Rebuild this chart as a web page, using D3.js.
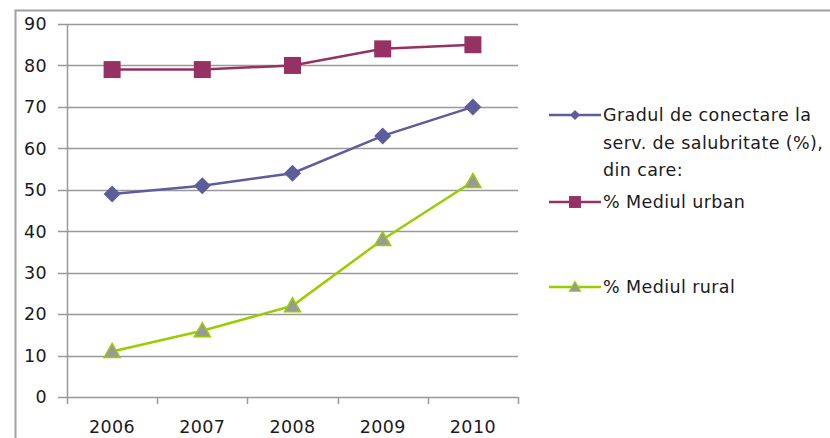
<!DOCTYPE html>
<html>
<head>
<meta charset="utf-8">
<script src="https://cdn.jsdelivr.net/npm/d3@7"></script>
<style>
  body { margin: 0; background: #fff; }
  text { font-family: "DejaVu Sans", sans-serif; fill: #1a1a22; letter-spacing: 0.4px; }
</style>
</head>
<body>
<svg id="chart" width="830" height="438"></svg>
<script>
const years = ['2006', '2007', '2008', '2009', '2010'];
const total = [49, 51, 54, 63, 70];
const urban = [79, 79, 80, 84, 85];
const rural = [11, 16, 22, 38, 52];
const yTicks = [0, 10, 20, 30, 40, 50, 60, 70, 80, 90];

const series = [
  {name: ['Gradul de conectare la', 'serv. de salubritate (%),', 'din care:'], values: total, color: '#5d5d9c', marker: 'diamond', legendY: 115},
  {name: ['% Mediul urban'], values: urban, color: '#953163', marker: 'square', legendY: 202},
  {name: ['% Mediul rural'], values: rural, color: '#9acd00', marker: 'triangle', legendY: 287}
];

const svg = d3.select('#chart');
const plotLeft = 67, plotRight = 518, plotTop = 24, plotBottom = 397;

// outer frame
svg.append('path')
  .attr('d', 'M15.5,438 V10.5 H830')
  .attr('fill', 'none')
  .attr('stroke', '#a0a0a0')
  .attr('stroke-width', 2);

const x = d3.scaleBand().domain(years).range([plotLeft, plotRight]);
const y = d3.scaleLinear().domain([0, 90]).range([plotBottom, plotTop]);

// gridlines
svg.append('g')
  .selectAll('line')
  .data(yTicks)
  .enter()
  .append('line')
  .attr('x1', plotLeft - 9)
  .attr('x2', plotRight)
  .attr('y1', d => Math.round(y(d)) + 0.5)
  .attr('y2', d => Math.round(y(d)) + 0.5)
  .attr('stroke', '#999')
  .attr('stroke-width', 1.5);

// y axis line
svg.append('line')
  .attr('x1', plotLeft + 0.5).attr('x2', plotLeft + 0.5)
  .attr('y1', y(90)).attr('y2', plotBottom)
  .attr('stroke', '#999').attr('stroke-width', 1.5);

// x tick marks at category boundaries
svg.append('g')
  .selectAll('line')
  .data(years.concat(['end']))
  .enter()
  .append('line')
  .attr('x1', (d, i) => Math.round(plotLeft + i * x.step()) + 0.5)
  .attr('x2', (d, i) => Math.round(plotLeft + i * x.step()) + 0.5)
  .attr('y1', plotBottom)
  .attr('y2', plotBottom + 7)
  .attr('stroke', '#999').attr('stroke-width', 1.5);

// y tick labels
svg.append('g')
  .selectAll('text')
  .data(yTicks)
  .enter()
  .append('text')
  .attr('x', 47)
  .attr('y', d => y(d))
  .attr('dy', '0.36em')
  .attr('text-anchor', 'end')
  .style('font-size', '17.5px')
  .text(d => d);

// x labels
svg.append('g')
  .selectAll('text')
  .data(years)
  .enter()
  .append('text')
  .attr('x', d => x(d) + x.bandwidth() / 2)
  .attr('y', 427)
  .attr('dy', '0.36em')
  .attr('text-anchor', 'middle')
  .style('font-size', '17.5px')
  .text(d => d);

const line = d3.line()
  .x((d, i) => x(years[i]) + x.bandwidth() / 2)
  .y(d => y(d));

const drawMarker = (g, type, color) => {
  if (type === 'diamond') {
    g.append('path').attr('d', 'M0,-8.5 L8.5,0 L0,8.5 L-8.5,0 Z').attr('fill', color);
  } else if (type === 'square') {
    g.append('rect').attr('x', -8.5).attr('y', -8.5).attr('width', 17).attr('height', 17).attr('fill', color);
  } else {
    g.append('path').attr('d', 'M0,-8 L8,6 L-8,6 Z')
      .attr('fill', '#999').attr('stroke', color).attr('stroke-width', 1.5);
  }
};

series.forEach(s => {
  svg.append('path')
    .datum(s.values)
    .attr('d', line)
    .attr('fill', 'none')
    .attr('stroke', s.color)
    .attr('stroke-width', 2.5);

  s.values.forEach((v, i) => {
    const g = svg.append('g')
      .attr('transform', `translate(${x(years[i]) + x.bandwidth() / 2},${y(v)})`);
    drawMarker(g, s.marker, s.color);
  });

  // legend
  svg.append('line')
    .attr('x1', 549).attr('x2', 601)
    .attr('y1', s.legendY).attr('y2', s.legendY)
    .attr('stroke', s.color).attr('stroke-width', 2.5);
  const lg = svg.append('g').attr('transform', `translate(575,${s.legendY})`);
  drawMarker(lg, s.marker, s.color);
  lg.select('*').attr('transform', s.marker === 'diamond' ? 'scale(0.6)' : 'scale(0.7)');

  svg.append('text')
    .attr('x', 603)
    .attr('y', s.legendY)
    .style('font-size', '17.5px')
    .selectAll('tspan')
    .data(s.name)
    .enter()
    .append('tspan')
    .attr('x', 603)
    .attr('dy', (d, i) => i === 0 ? '0.36em' : '1.57em')
    .text(d => d);
});
</script>
</body>
</html>
